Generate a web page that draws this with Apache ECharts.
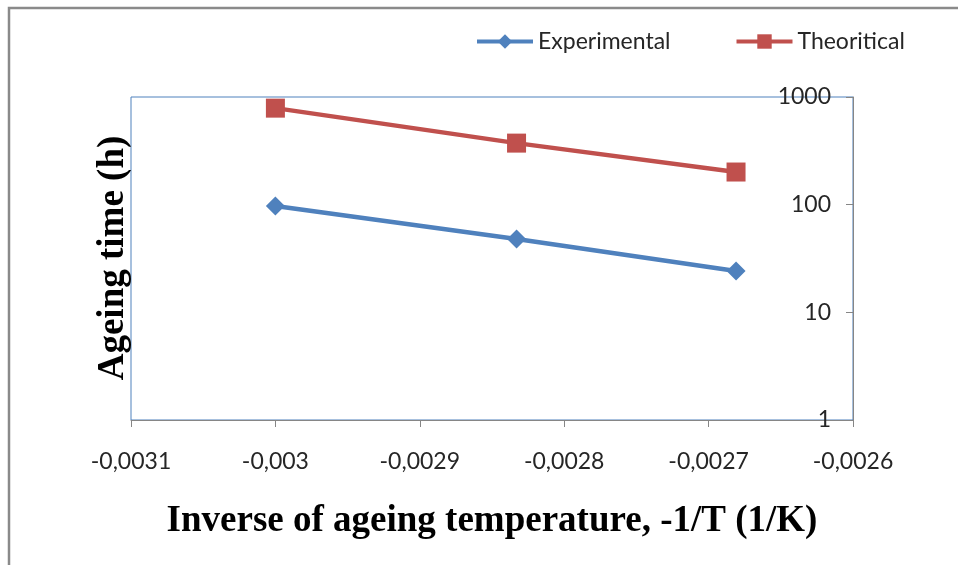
<!DOCTYPE html>
<html>
<head>
<meta charset="utf-8">
<script src="https://cdn.jsdelivr.net/npm/echarts@6/dist/echarts.min.js"></script>
<style>
  html, body { margin: 0; padding: 0; background: #fff; }
  #main { width: 958px; height: 565px; }
</style>
</head>
<body>
<div id="main"></div>
<script>
// inverse temperature (-1/T)
const xValues = [-0.0030, -0.002833, -0.002681];
const experimental = [97, 48, 24.2];
const theoretical = [788, 373, 201];
const xTicks = { min: -0.0031, max: -0.0026, step: 0.0001 };
const yTicks = { min: 1, max: 1000 };

const pairs = (ys) => xValues.map((x, i) => [x, ys[i]]);

const fmtX = (v) => {
  let s = Number(v).toFixed(4).replace(/0+$/, "").replace(/\.$/, "");
  return s.replace(".", ",");
};

const chart = echarts.init(document.getElementById("main"));

const option = {
  backgroundColor: "#fff",
  animation: false,
  graphic: [
    {
      type: "rect",
      shape: { x: 9, y: 8, width: 1000, height: 600 },
      style: { fill: "none", stroke: "#8a8a8a", lineWidth: 2.5 },
      silent: true,
    },
    {
      type: "text",
      x: 113,
      y: 258,
      rotation: Math.PI / 2,
      style: {
        text: "Ageing time (h)",
        fontFamily: "Liberation Serif",
        fontWeight: "bold",
        fontSize: 37,
        fill: "#000",
        align: "center",
        verticalAlign: "middle",
      },
      silent: true,
    },
  ],
  legend: {
    left: 470,
    top: 25,
    itemWidth: 56,
    itemHeight: 18,
    itemGap: 64,
    lineStyle: { width: 4 },
    textStyle: { fontFamily: "Lato", fontSize: 23, color: "#262626" },
    data: ["Experimental", "Theoritical"],
  },
  grid: {
    left: 131,
    right: 105,
    top: 97,
    bottom: 145,
    show: true,
    borderColor: "#4F81BD",
    borderWidth: 1,
  },
  xAxis: {
    type: "value",
    min: xTicks.min,
    max: xTicks.max,
    interval: xTicks.step,
    name: "Inverse of ageing temperature, -1/T (1/K)",
    nameLocation: "middle",
    nameGap: 83,
    nameTextStyle: {
      fontFamily: "Liberation Serif",
      fontWeight: "bold",
      fontSize: 37,
      color: "#000",
    },
    axisLine: { lineStyle: { color: "#868686", width: 1 } },
    axisTick: { length: 7, lineStyle: { color: "#868686" } },
    axisLabel: {
      formatter: fmtX,
      margin: 30,
      fontFamily: "Lato",
      fontSize: 23,
      color: "#262626",
    },
    splitLine: { show: false },
  },
  yAxis: {
    type: "log",
    logBase: 10,
    min: yTicks.min,
    max: yTicks.max,
    position: "right",
    axisLine: { show: true, lineStyle: { color: "#868686", width: 1 } },
    axisTick: { show: true, inside: true, length: 7, lineStyle: { color: "#868686" } },
    axisLabel: {
      inside: true,
      margin: 22,
      formatter: (v) => String(v),
      fontFamily: "Lato",
      fontSize: 23,
      color: "#262626",
    },
    splitLine: { show: false },
    minorTick: { show: false },
  },
  series: [
    {
      name: "Experimental",
      type: "line",
      data: pairs(experimental),
      symbol: "diamond",
      symbolSize: 19,
      lineStyle: { color: "#4F81BD", width: 4.5 },
      itemStyle: { color: "#4F81BD" },
    },
    {
      name: "Theoritical",
      type: "line",
      data: pairs(theoretical),
      symbol: "rect",
      symbolSize: 19,
      lineStyle: { color: "#C0504D", width: 4.5 },
      itemStyle: { color: "#C0504D" },
    },
  ],
};

chart.setOption(option);
</script>
</body>
</html>
